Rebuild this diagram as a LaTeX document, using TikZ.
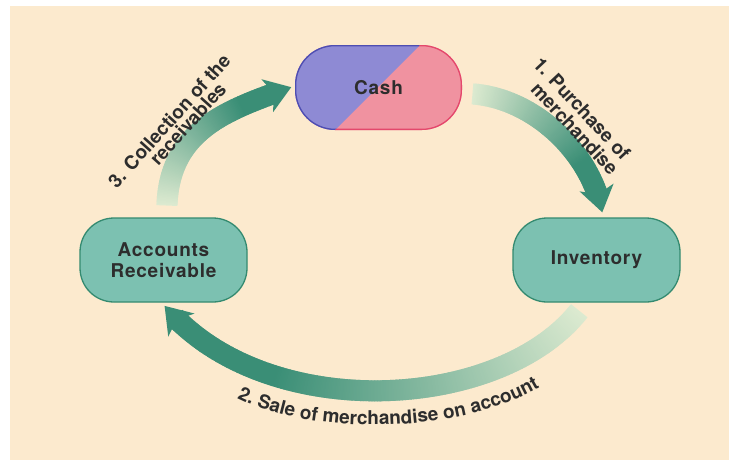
\documentclass[tikz,border=0pt]{standalone}
\usepackage{fontspec}
\setmainfont{TeX Gyre Heros}
\usetikzlibrary{decorations.markings,decorations.text}
\definecolor{paper}{RGB}{252,234,206}
\definecolor{ink}{RGB}{45,45,45}
\definecolor{tealfill}{RGB}{124,193,177}
\definecolor{tealline}{RGB}{52,138,112}
\definecolor{cashblue}{RGB}{142,138,212}
\definecolor{cashblueline}{RGB}{78,78,178}
\definecolor{cashred}{RGB}{240,146,160}
\definecolor{cashredline}{RGB}{228,72,108}
\definecolor{flowdark}{RGB}{58,142,118}
\definecolor{flowlight}{RGB}{220,234,208}

\begin{document}
\begin{tikzpicture}[x=1pt, y=-1pt,
	accountbox/.style={draw=tealline, fill=tealfill, line width=1.3pt, rounded corners=34pt,
		minimum width=167pt, minimum height=84pt, align=center, text=ink,
		font=\bfseries\fontsize{19}{21}\selectfont\addfontfeatures{LetterSpace=4}},
	cashbox/.style={accountbox, draw=none, fill=cashred, rounded corners=40pt, minimum height=85pt,
		path picture={
			\coordinate (nw) at (path picture bounding box.north west);
			\coordinate (se) at (path picture bounding box.south east);
			\coordinate (cut top) at ([xshift=-42pt]path picture bounding box.north east);
			\coordinate (cut bottom) at ([xshift=40pt]path picture bounding box.south west);
			\begin{scope}[sharp corners]
				\clip (nw) -- (cut top) -- (cut bottom) -- (nw |- se) -- cycle;
				\fill[cashblue] (nw) rectangle (se);
				\draw[cashblueline, line width=2.6pt, rounded corners=40pt] (nw) rectangle (se);
			\end{scope}
			\begin{scope}[sharp corners]
				\clip (cut top) -- (se |- nw) -- (se) -- (cut bottom) -- cycle;
				\draw[cashredline, line width=2.6pt, rounded corners=40pt] (nw) rectangle (se);
			\end{scope}
		}},
	flowarrow/.style={postaction={decorate}, decoration={markings,
		mark=between positions 0 and -16pt step 1.5pt with {
			\pgfmathsetmacro\flowpc{min(100,140*(\pgfkeysvalueof{/pgf/decoration/mark info/distance from start}/\pgfdecoratedpathlength))}
			\fill[flowdark!\flowpc!flowlight] (-1.2,-10.5) rectangle (1.2,10.5);},
		mark=at position -4pt with {\fill[flowdark] (4.5,0) -- (-21,17.5) -- (-14,0) -- (-21,-17.5) -- cycle;}}},
	flowlabel/.style={text=ink, align=center, font=\bfseries\fontsize{19}{19}\selectfont}]

	\useasboundingbox (0,0) rectangle (729,466);
	\fill[white] (0,0) rectangle (729,466);
	\fill[paper] (10,6) rectangle (729,460);

	\node[cashbox] (cash) at (378.5,87.5) {Cash};
	\node[accountbox] (inventory) at (596.5,260) {Inventory};
	\node[accountbox] (receivable) at (163.5,260) {Accounts\\Receivable};

	\path[flowarrow] ([xshift=11pt,yshift=-6.5pt]cash.east) .. controls +(60,5) and +(-12,-60) .. ([xshift=5.5pt,yshift=6pt]inventory.north);
	\path[flowarrow] ([xshift=-18pt,yshift=-9pt]inventory.south) .. controls +(-80,100) and +(100,115) .. ([xshift=3.5pt,yshift=-6pt]receivable.south);
	\path[flowarrow] ([xshift=3.5pt,yshift=13pt]receivable.north) .. controls +(3,-75) and +(-62,22) .. ([xshift=-4pt]cash.west);

	\node[flowlabel, rotate=-47] (buy) at (575,115) {1. Purchase of\\\hspace*{20pt}merchandise};
	\node[flowlabel, rotate=48] (collect) at (175,126) {3. Collection of the\\[-3pt]\hspace*{20pt}receivables};
	\path[decorate, decoration={text along path, text align=center,
		text={|\bfseries\fontsize{19}{20}\selectfont\color{ink}|2. Sale of merchandise on account}}]
		(220,388) .. controls (295,440) and (475,438) .. (556,376);
\end{tikzpicture}
\end{document}
